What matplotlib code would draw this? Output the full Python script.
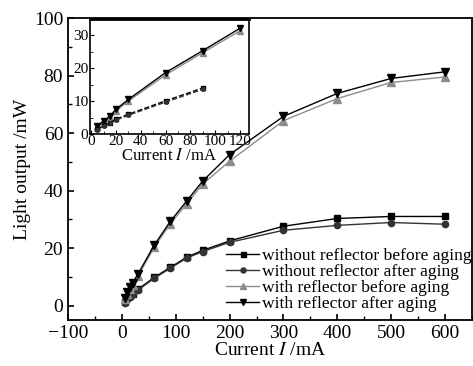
import matplotlib
matplotlib.use("Agg")
import matplotlib.pyplot as plt
from matplotlib.ticker import MultipleLocator

plt.rcParams['font.family'] = ['Liberation Serif', 'DejaVu Serif']
plt.rcParams['mathtext.fontset'] = 'stix'

# Main chart data
current = [5, 10, 15, 20, 30, 60, 90, 120, 150, 200, 300, 400, 500, 600]
wo_before = [1.2, 2.5, 3.3, 4.2, 5.7, 9.8, 13.3, 16.8, 19.2, 22.5, 27.6, 30.3, 31.0, 31.0]
wo_after = [1.0, 2.3, 3.1, 4.0, 5.4, 9.5, 13.0, 16.5, 18.8, 22.0, 26.2, 27.9, 28.9, 28.3]
w_before = [2.3, 4.2, 5.8, 7.3, 10.3, 20.3, 28.5, 35.3, 42.3, 50.2, 64.3, 72.0, 77.6, 79.5]
w_after = [2.6, 4.6, 6.3, 7.9, 11.0, 21.0, 29.3, 36.3, 43.3, 52.5, 65.8, 73.8, 79.0, 81.3]

# Inset data
in_current = [5, 10, 15, 20, 30, 60, 90, 120]
in_w_before = [2.2, 3.6, 5.0, 7.0, 10.0, 18.0, 24.8, 31.4]
in_w_after = [2.5, 4.0, 5.4, 7.5, 10.5, 18.7, 25.4, 32.2]
in_cur_wo = [5, 10, 15, 20, 30, 60, 90]
in_wo_before = [1.4, 2.6, 3.4, 4.5, 6.0, 10.1, 14.0]
in_wo_after = [1.2, 2.4, 3.2, 4.2, 5.7, 9.7, 13.6]

labels = ['without reflector before aging', 'without reflector after aging',
          'with reflector before aging', 'with reflector after aging']

fig = plt.figure(figsize=(4.73, 3.66), dpi=100)
ax = fig.add_axes([0.1438, 0.1257, 0.854, 0.825])

gray = '#8c8c8c'
dark = '#333333'
ax.plot(current, wo_before, '-', color='black', marker='s', ms=4.5, lw=1.0, label=labels[0])
ax.plot(current, wo_after, '-', color=dark, marker='o', ms=4.5, lw=1.0, mec=dark, mfc=dark, label=labels[1])
ax.plot(current, w_before, '-', color=gray, marker='^', ms=6, lw=1.0, mec=gray, mfc=gray, label=labels[2])
ax.plot(current, w_after, '-', color='black', marker='v', ms=6, lw=1.0, label=labels[3])

ax.set_xlim(-100, 650)
ax.set_ylim(-5, 100)
ax.xaxis.set_major_locator(MultipleLocator(100))
ax.xaxis.set_minor_locator(MultipleLocator(50))
ax.yaxis.set_major_locator(MultipleLocator(20))
ax.yaxis.set_minor_locator(MultipleLocator(10))
ax.tick_params(which='both', direction='in', top=False, right=False, labelsize=14)
ax.tick_params(which='major', length=4, width=1.2)
ax.tick_params(which='minor', length=3, width=1.0)
for s in ax.spines.values():
    s.set_linewidth(1.3)
ax.set_xlabel('Current $I$ /mA', fontsize=14, labelpad=0)
ax.set_ylabel('Light output /mW', fontsize=14, labelpad=2)

leg = ax.legend(loc='lower right', bbox_to_anchor=(1.0, 0.025), frameon=False,
                fontsize=12.6, handlelength=1.85, handletextpad=0.2, labelspacing=0.0,
                borderaxespad=0.0, borderpad=0.0, markerscale=0.8)

# Inset
ins = fig.add_axes([0.190, 0.634, 0.336, 0.314])
ins.plot(in_current, in_w_before, '-', color=gray, marker='^', ms=4.5, lw=1.0, mec=gray, mfc=gray)
ins.plot(in_current, in_w_after, '-', color='black', marker='v', ms=4.5, lw=1.0)
ins.plot(in_cur_wo, in_wo_before, '--', color='black', marker='s', ms=2.5, lw=1.0)
ins.plot(in_cur_wo, in_wo_after, '--', color=dark, marker='o', ms=2.5, lw=1.0)
ins.set_xlim(-1, 127)
ins.set_ylim(0, 35)
ins.xaxis.set_major_locator(MultipleLocator(20))
ins.xaxis.set_minor_locator(MultipleLocator(10))
ins.yaxis.set_major_locator(MultipleLocator(10))
ins.yaxis.set_minor_locator(MultipleLocator(5))
ins.tick_params(which='both', direction='in', top=False, right=False, labelsize=11, pad=1)
ins.tick_params(which='major', length=3)
ins.tick_params(which='minor', length=2)
for s in ins.spines.values():
    s.set_linewidth(1.2)
ins.spines['top'].set_linewidth(2.0)
ins.set_xlabel('Current $I$ /mA', fontsize=12, labelpad=0)

fig.savefig('out.png', dpi=100)
